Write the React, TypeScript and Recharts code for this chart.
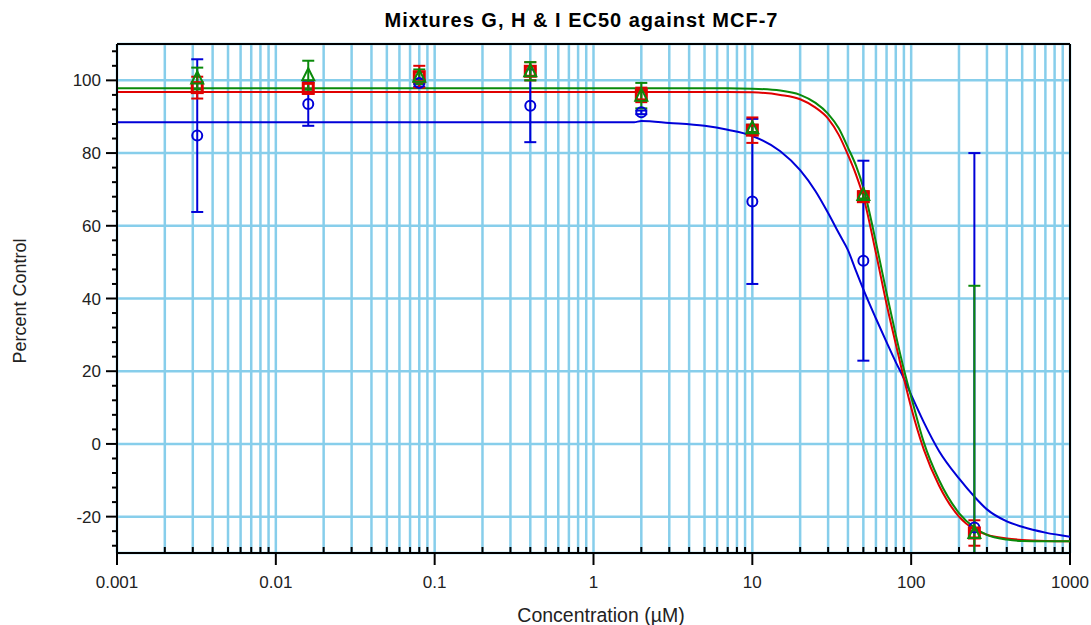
import React from 'react';
import { ComposedChart, Line, Scatter, XAxis, YAxis, CartesianGrid, ErrorBar, ReferenceLine } from 'recharts';

// measured concentrations (µM)
const concentrations = [0.0032, 0.016, 0.08, 0.4, 2, 10, 50, 250];

// Mixture G - blue circles (error as [below, above]; lower end of last bar runs off the axis)
const mixGMean = [84.8, 93.5, 99.3, 93, 91.2, 66.7, 50.4, -23];
const mixGErr = [[21, 21], [6, 6], [1, 1], [10, 10], [0.5, 0.5], [22.7, 22.7], [27.5, 27.5], [7, 103]];
// Mixture H - red squares
const mixHMean = [98, 97.8, 101, 102.5, 96, 86.3, 68, -24.5];
const mixHErr = [[3, 3], [1.5, 1.5], [3, 3], [2.5, 2.5], [2, 2], [3.5, 3.5], [1, 1], [3.5, 3.5]];
// Mixture I - green triangles
const mixIMean = [100.5, 101.4, 101, 102.5, 95.8, 86.8, 68.5, -24.5];
const mixIErr = [[3, 3], [4, 4], [2, 2], [2.5, 2.5], [3.5, 3.5], [1, 1], [1, 1], [5.5, 68]];

// fitted curves
const curveX = [0.001, 1.8, 2, 3, 5, 7, 10, 15, 20, 25, 30, 35, 40, 45, 50, 60, 70, 80, 90, 100, 120, 150, 200, 250, 300, 400, 500, 700, 1000];
const fitG = [88.5, 88.5, 88.8, 88.3, 87.5, 86.4, 84.7, 80.5, 75.3, 69.5, 63.5, 58, 53.3, 47.5, 42.5, 34.5, 28, 22.5, 18, 13.5, 6, -2, -9.5, -14.5, -18, -21.3, -22.8, -24.4, -25.5];
const fitH = [96.8, 96.8, 96.8, 96.8, 96.8, 96.8, 96.7, 96, 94.8, 92.5, 89.5, 85, 79.5, 74, 68, 52.5, 38.5, 27.5, 18, 10, -1.5, -11.5, -20, -23.5, -25, -26, -26.4, -26.7, -26.8];
const fitI = [97.8, 97.8, 97.8, 97.8, 97.8, 97.8, 97.7, 97.2, 96, 93.8, 90.8, 86.8, 81.5, 76.5, 70.5, 55.5, 41.5, 30, 20.5, 13, 0.5, -10, -19, -23, -25, -26.3, -26.7, -26.8, -26.8];

const decades = [0.001, 0.01, 0.1, 1, 10, 100];
const multipliers = [1, 2, 3, 4, 5, 6, 7, 8, 9];
const xTicks = decades.flatMap(d => multipliers.map(m => Number((d * m).toPrecision(3)))).concat([1000]);
const yTicks = Array.from({ length: 35 }, (_, i) => -28 + i * 4);
const yGrid = [-20, 0, 20, 40, 60, 80, 100];

const BLUE = '#0000D8';
const RED = '#E00000';
const GREEN = '#0A8A0A';
const GRID = '#87CEEB';
const FONT = '"Liberation Sans", Arial, sans-serif';

const points = (mean: number[], err: number[][]) =>
    concentrations.map((x, i) => ({ x, y: mean[i], err: err[i] }));
const curve = (ys: number[]) => curveX.map((x, i) => ({ x, y: ys[i] }));

const isDecade = (v: number) => Math.abs(Math.log10(v) - Math.round(Math.log10(v))) < 1e-6;

const XTick = (props: any) => {
    const { x, y, payload } = props;
    const major = isDecade(payload.value);
    return (
        <g>
            <line x1={x} x2={x} y1={y} y2={major ? y + 12 : y - 6} stroke="#000" strokeWidth={2} />
            {major && (
                <text x={x} y={y + 35} textAnchor="middle" fontFamily={FONT} fontSize={17} fill="#222">
                    {String(payload.value)}
                </text>
            )}
        </g>
    );
};

const YTick = (props: any) => {
    const { x, y, payload } = props;
    const major = payload.value % 20 === 0;
    return (
        <g>
            <line x1={x} x2={major ? x - 11 : x - 5} y1={y} y2={y} stroke="#000" strokeWidth={2} />
            {major && (
                <text x={x - 16} y={y + 6} textAnchor="end" fontFamily={FONT} fontSize={17} fill="#222">
                    {payload.value}
                </text>
            )}
        </g>
    );
};

const circleShape = (p: any) => <circle cx={p.cx} cy={p.cy} r={5} fill="none" stroke={BLUE} strokeWidth={2} />;
const squareShape = (p: any) => (
    <rect x={p.cx - 5} y={p.cy - 5} width={10} height={10} fill="none" stroke={RED} strokeWidth={3} />
);
const triangleShape = (p: any) => (
    <path d={`M${p.cx},${p.cy - 7}L${p.cx + 6},${p.cy + 5}L${p.cx - 6},${p.cy + 5}Z`} fill="none" stroke={GREEN} strokeWidth={2} />
);

export default function App() {
    return (
        <div style={{ position: 'absolute', left: 0, top: 0, width: 1091, height: 625, fontFamily: FONT }}>
            <div style={{ position: 'absolute', left: 81, width: 1001, top: 10, textAlign: 'center', fontSize: 20, fontWeight: 'bold', letterSpacing: 1, lineHeight: '20px' }}>
                Mixtures G, H &amp; I EC50 against MCF-7
            </div>
            <div style={{ position: 'absolute', left: 20, top: 301, transform: 'translate(-50%, -50%) rotate(-90deg)', whiteSpace: 'nowrap', fontSize: 18, color: '#222' }}>
                Percent Control
            </div>
            <div style={{ position: 'absolute', left: 301, width: 600, top: 605, textAlign: 'center', fontSize: 19.5, color: '#222', lineHeight: '20px' }}>
                Concentration (µM)
            </div>
            <ComposedChart width={1091} height={625} margin={{ top: 44, right: 21, left: 57, bottom: 32 }}>
                <CartesianGrid yAxisId="grid" stroke={GRID} strokeWidth={2.5} />
                <XAxis
                    type="number"
                    dataKey="x"
                    scale="log"
                    domain={[0.001, 1000]}
                    allowDataOverflow
                    ticks={xTicks}
                    interval={0}
                    tickSize={0}
                    tickMargin={0}
                    tick={<XTick />}
                    height={40}
                    axisLine={{ stroke: '#000', strokeWidth: 2 }}
                />
                <YAxis
                    type="number"
                    domain={[-30, 110]}
                    allowDataOverflow
                    ticks={yTicks}
                    interval={0}
                    tickSize={0}
                    tickMargin={0}
                    tick={<YTick />}
                    width={60}
                    axisLine={{ stroke: '#000', strokeWidth: 2 }}
                />
                <YAxis yAxisId="grid" type="number" domain={[-30, 110]} allowDataOverflow ticks={yGrid} hide />
                <ReferenceLine y={110} stroke="#000" strokeWidth={2} />
                <ReferenceLine x={1000} stroke="#000" strokeWidth={2} />
                <Line data={curve(fitG)} dataKey="y" type="monotone" stroke={BLUE} strokeWidth={2} dot={false} isAnimationActive={false} />
                <Line data={curve(fitH)} dataKey="y" type="monotone" stroke={RED} strokeWidth={2} dot={false} isAnimationActive={false} />
                <Line data={curve(fitI)} dataKey="y" type="monotone" stroke={GREEN} strokeWidth={2} dot={false} isAnimationActive={false} />
                <Scatter data={points(mixGMean, mixGErr)} dataKey="y" shape={circleShape} isAnimationActive={false}>
                    <ErrorBar dataKey="err" direction="y" width={6} stroke={BLUE} strokeWidth={2} />
                </Scatter>
                <Scatter data={points(mixHMean, mixHErr)} dataKey="y" shape={squareShape} isAnimationActive={false}>
                    <ErrorBar dataKey="err" direction="y" width={6} stroke={RED} strokeWidth={2} />
                </Scatter>
                <Scatter data={points(mixIMean, mixIErr)} dataKey="y" shape={triangleShape} isAnimationActive={false}>
                    <ErrorBar dataKey="err" direction="y" width={6} stroke={GREEN} strokeWidth={2} />
                </Scatter>
            </ComposedChart>
        </div>
    );
}
